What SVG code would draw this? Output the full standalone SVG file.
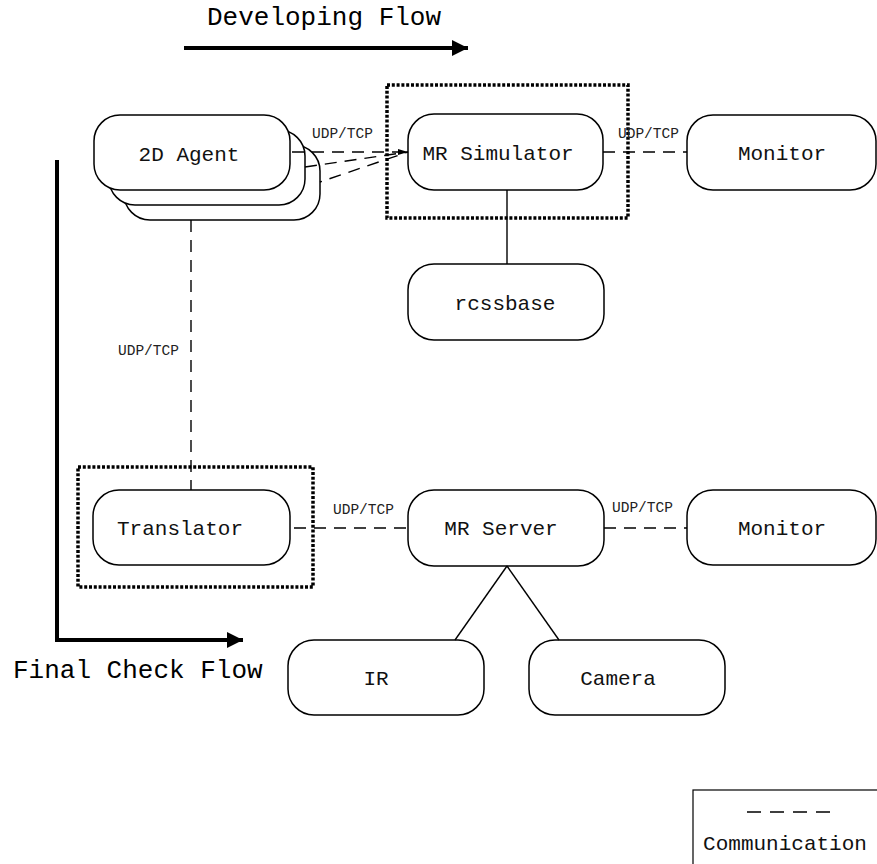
<svg xmlns="http://www.w3.org/2000/svg" width="877" height="864" viewBox="0 0 877 864">
<style>
.box{fill:#fff;stroke:#000;stroke-width:1.5}
.lbl{font-family:"Liberation Mono","Courier New",monospace;font-size:21px;fill:#111;text-anchor:middle}
.big{font-family:"Liberation Mono","Courier New",monospace;font-size:26px;fill:#000}
.prot{font-family:"Liberation Mono","Courier New",monospace;font-size:14.5px;fill:#222}
.dash{fill:none;stroke:#000;stroke-width:1.4;stroke-dasharray:12 8}
.legdash{fill:none;stroke:#000;stroke-width:1.5;stroke-dasharray:14 9}
.solid{fill:none;stroke:#000;stroke-width:1.4}
.dot{fill:none;stroke:#000;stroke-width:3.5;stroke-dasharray:3 1.8}
.flow{fill:none;stroke:#000;stroke-width:4}
</style>
<defs>
<marker id="small" markerWidth="10" markerHeight="8" refX="10" refY="4" orient="auto" markerUnits="userSpaceOnUse">
<path d="M0,1 L10,4 L0,7 z" fill="#000"/>
</marker>
<marker id="big" markerWidth="18" markerHeight="16" refX="16" refY="8" orient="auto" markerUnits="userSpaceOnUse">
<path d="M0,0 L16,8 L0,16 z" fill="#000"/>
</marker>
</defs>

<g id="developing-flow">
<line class="flow" x1="184" y1="48" x2="468" y2="48" marker-end="url(#big)"/>
<text class="big" x="207" y="25">Developing Flow</text>
</g>

<g id="final-check-flow">
<polyline class="flow" points="57,160 57,640 243,640" marker-end="url(#big)"/>
<text class="big" x="13" y="678">Final Check Flow</text>
</g>

<g id="simulator-group">
<rect class="dot" x="387" y="85" width="241" height="133"/>
</g>
<g id="translator-group">
<rect class="dot" x="78" y="467" width="235" height="120"/>
</g>

<g id="agent-2d">
<rect class="box" x="124" y="145" width="196" height="75" rx="26"/>
<rect class="box" x="109" y="130" width="196" height="75" rx="26"/>
<rect class="box" x="94" y="115" width="196" height="75" rx="26"/>
<text class="lbl" x="189" y="161">2D Agent</text>
</g>

<g id="mr-simulator">
<rect class="box" x="408" y="114" width="195" height="76" rx="26"/>
<text class="lbl" x="498" y="160">MR Simulator</text>
</g>

<g id="monitor-top">
<rect class="box" x="687" y="115" width="189" height="75" rx="26"/>
<text class="lbl" x="782" y="160">Monitor</text>
</g>

<g id="rcssbase">
<rect class="box" x="408" y="264" width="196" height="76" rx="26"/>
<text class="lbl" x="505" y="310">rcssbase</text>
</g>

<g id="translator">
<rect class="box" x="93" y="490" width="197" height="75" rx="26"/>
<text class="lbl" x="180" y="535">Translator</text>
</g>

<g id="mr-server">
<rect class="box" x="408" y="490" width="196" height="76" rx="26"/>
<text class="lbl" x="501" y="535">MR Server</text>
</g>

<g id="monitor-bottom">
<rect class="box" x="687" y="490" width="189" height="75" rx="26"/>
<text class="lbl" x="782" y="535">Monitor</text>
</g>

<g id="ir">
<rect class="box" x="288" y="640" width="196" height="75" rx="26"/>
<text class="lbl" x="376" y="685">IR</text>
</g>

<g id="camera">
<rect class="box" x="529" y="640" width="196" height="75" rx="26"/>
<text class="lbl" x="618" y="685">Camera</text>
</g>

<g id="connectors">
<line class="dash" x1="290" y1="152" x2="408" y2="152" stroke-dashoffset="-2" marker-end="url(#small)"/>
<line class="dash" x1="305" y1="167" x2="408" y2="152"/>
<line class="dash" x1="320" y1="182" x2="408" y2="152" stroke-dashoffset="10"/>
<text class="prot" x="312" y="138">UDP/TCP</text>

<line class="dash" x1="603" y1="152" x2="687" y2="152"/>
<text class="prot" x="618" y="138">UDP/TCP</text>

<line class="solid" x1="507" y1="190" x2="507" y2="264"/>

<line class="dash" x1="191" y1="220" x2="191" y2="490"/>
<text class="prot" x="118" y="355">UDP/TCP</text>

<line class="dash" x1="290" y1="528" x2="408" y2="528" stroke-dashoffset="-4"/>
<text class="prot" x="333" y="514">UDP/TCP</text>

<line class="dash" x1="604" y1="528" x2="687" y2="528"/>
<text class="prot" x="612" y="512">UDP/TCP</text>

<line class="solid" x1="507" y1="566" x2="455" y2="640"/>
<line class="solid" x1="507" y1="566" x2="559" y2="640"/>
</g>

<g id="legend">
<rect x="693" y="790" width="190" height="80" fill="none" stroke="#000" stroke-width="1.2"/>
<line class="legdash" x1="747" y1="812" x2="830" y2="812"/>
<text class="lbl" x="785" y="850">Communication</text>
</g>
</svg>
